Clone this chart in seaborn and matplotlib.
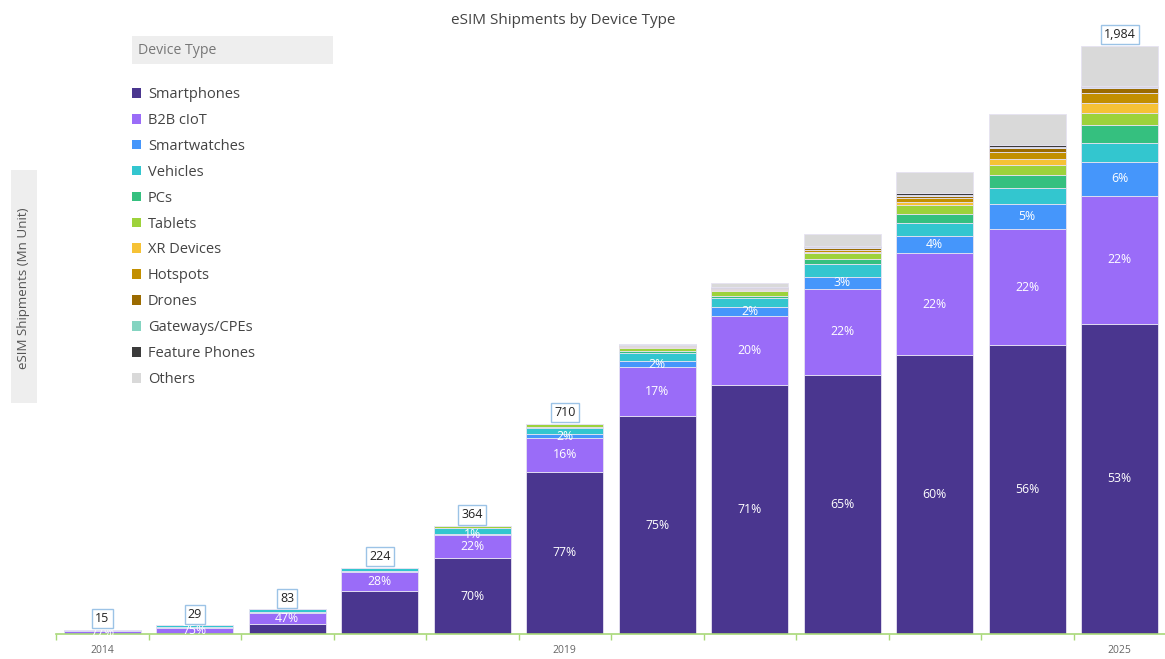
import numpy as np
import pandas as pd
import seaborn as sns
import matplotlib
matplotlib.use("Agg")
import matplotlib.pyplot as plt
from matplotlib.patches import Rectangle, Patch

# ---------------- data (Mn units) ----------------
years = [2014, 2015, 2016, 2017, 2018, 2019, 2020, 2021, 2022, 2023, 2024, 2025]
devices = ["Smartphones", "B2B cIoT", "Smartwatches", "Vehicles", "PCs", "Tablets",
           "XR Devices", "Hotspots", "Drones", "Gateways/CPEs", "Feature Phones", "Others"]

smartphones    = [0,    0,    33, 145, 255, 547, 734, 841, 874, 941, 975, 1046]
b2b_ciot       = [11.5, 21.8, 39, 63,  80,  114, 166, 233, 290, 344, 390, 432]
smartwatches   = [1.0,  2.2,  3,  4,   4,   14,  20,  28,  42,  57,  85,  116]
vehicles       = [2.5,  5.0,  8,  9,   17,  20,  28,  33,  42,  46,  55,  62]
pcs            = [0,    0,    0,  1,   3,   3,   6,   7,   16,  30,  43,  60]
tablets        = [0,    0,    0,  2,   5,   12,  12,  14,  22,  28,  36,  42]
xr_devices     = [0,    0,    0,  0,   0,   0,   3,   3,   2,   11,  20,  34]
hotspots       = [0,    0,    0,  0,   0,   0,   4,   5,   9,   14,  22,  34]
drones         = [0,    0,    0,  0,   0,   0,   3,   3,   5,   8,   12,  15]
gateways       = [0,    0,    0,  0,   0,   0,   1,   1,   2,   3,   4,   5]
feature_phones = [0,    0,    0,  0,   0,   0,   1,   3,   5,   6,   7,   3]
others         = [0,    0,    0,  0,   0,   0,   1,   13,  39,  70,  107, 135]

series = [smartphones, b2b_ciot, smartwatches, vehicles, pcs, tablets,
          xr_devices, hotspots, drones, gateways, feature_phones, others]

colors = ["#4a368f", "#9a6cf8", "#4596fb", "#33c6cf", "#35c07f", "#9dd23b",
          "#f6c235", "#c28f00", "#9b6b00", "#84d4c1", "#3b3b3b", "#d9d9d9"]

# which segments carry a percentage label
pct_label_years = {
    "Smartphones": [2018, 2019, 2020, 2021, 2022, 2023, 2024, 2025],
    "B2B cIoT": years,
    "Smartwatches": [2018, 2019, 2020, 2021, 2022, 2023, 2024, 2025],
}
total_label_years = [2014, 2015, 2016, 2017, 2018, 2019, 2025]
xtick_label_years = [2014, 2019, 2025]

# ---------------- figure ----------------
sns.set_theme(style="white")
plt.rcParams["font.family"] = ["Open Sans", "DejaVu Sans"]

W, H = 1165, 659
fig = plt.figure(figsize=(W / 100, H / 100), dpi=100)
ax = fig.add_axes([56 / W, 1 - 634 / H, (1166 - 56) / W, (634 - 20) / H])

df = pd.DataFrame({d: s for d, s in zip(devices, series)}, index=years)
totals = df.sum(axis=1).values

bottom = np.zeros(len(years))
for dev, col in zip(devices, colors):
    vals = df[dev].values.astype(float)
    sns.barplot(x=years, y=vals, bottom=bottom, color=col, width=0.83,
                errorbar=None, ax=ax, edgecolor="#e6e2f2", linewidth=0.6,
                saturation=1)
    if dev in pct_label_years:
        for i, yr in enumerate(years):
            if yr in pct_label_years[dev] and vals[i] > 0:
                pct = round(vals[i] / totals[i] * 100)
                ax.text(i, bottom[i] + vals[i] / 2, f"{pct}%", ha="center",
                        va="center", color="white", fontsize=8.8)
    bottom = bottom + vals

for i, yr in enumerate(years):
    if yr in total_label_years:
        ax.annotate(f"{totals[i]:,.0f}", xy=(i, totals[i]), xytext=(0, 8),
                    textcoords="offset points", ha="center", va="center",
                    fontsize=9, color="#222222",
                    bbox=dict(boxstyle="square,pad=0.25", fc="white",
                              ec="#9cc3e6", lw=1))

ax.set_xlim(-0.5, len(years) - 0.5)
ax.set_ylim(0, 614 / 0.2964)
ax.set_yticks([])
ax.set_ylabel("")
ax.set_xlabel("")
ax.set_xticks(range(len(years)))
ax.set_xticklabels([str(y) if y in xtick_label_years else "" for y in years],
                   fontsize=7.5, color="#666666")
ax.tick_params(axis="x", which="major", length=0, pad=8)
ax.set_xticks(np.arange(-0.5, len(years)), minor=True)
ax.tick_params(axis="x", which="minor", length=4, color="#a8d878", width=1,
               bottom=True)
for s in ["top", "right", "left"]:
    ax.spines[s].set_visible(False)
ax.spines["bottom"].set_color("#a8d878")
ax.spines["bottom"].set_linewidth(1.2)

# title
fig.text(563 / W, 1 - 20 / H, "eSIM Shipments by Device Type", ha="center",
         va="center", fontsize=11, color="#444444")

# y-axis title in grey box
fig.patches.append(Rectangle((11 / W, 1 - 403 / H), 26 / W, 233 / H,
                             transform=fig.transFigure, fc="#eeeeee", ec="none"))
fig.text(24 / W, 1 - 288 / H, "eSIM Shipments (Mn Unit)", rotation=90,
         ha="center", va="center", fontsize=9.6, color="#555555")

# legend
fig.patches.append(Rectangle((132 / W, 1 - 64 / H), 201 / W, 28 / H,
                             transform=fig.transFigure, fc="#eeeeee", ec="none"))
fig.text(138 / W, 1 - 50 / H, "Device Type", ha="left", va="center",
         fontsize=10.2, color="#777777")
handles = [Patch(facecolor=c, edgecolor="none") for c in colors]
fig.legend(handles, devices, loc="upper left", bbox_to_anchor=(126 / W, 1 - 81 / H),
           frameon=False, fontsize=10.5, handlelength=0.65, handleheight=0.65,
           handletextpad=0.45, labelspacing=0.75, borderaxespad=0,
           labelcolor="#444444")

fig.savefig("out.png", dpi=100)
